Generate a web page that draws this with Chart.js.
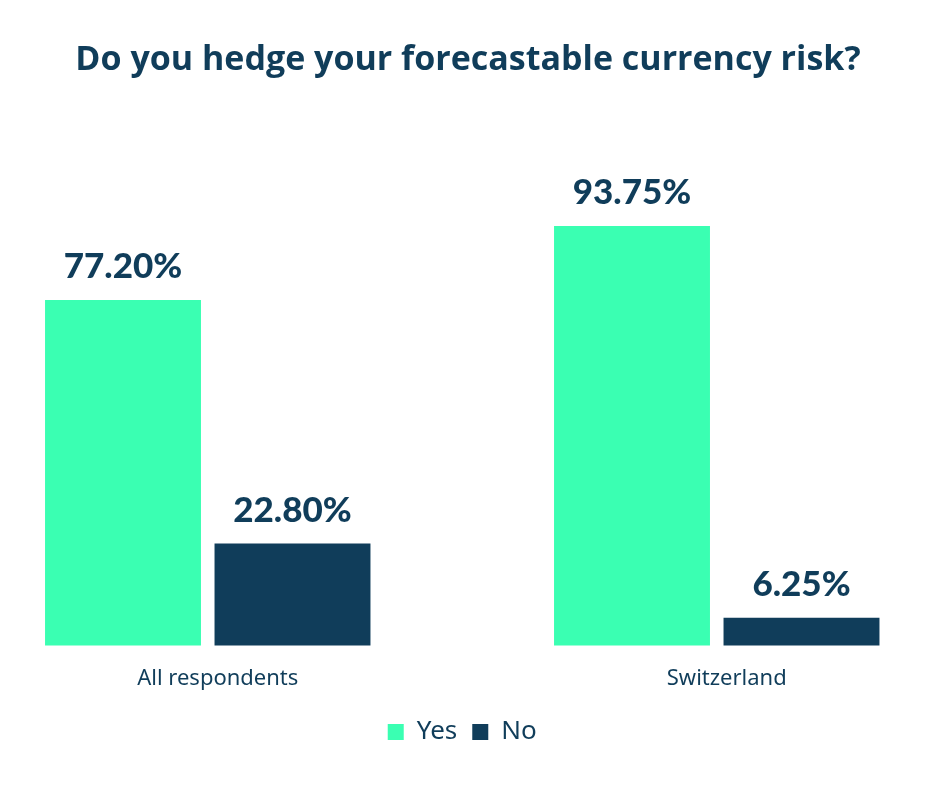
<!DOCTYPE html>
<html>
<head>
<meta charset="utf-8">
<script src="https://cdn.jsdelivr.net/npm/chart.js@4"></script>
<style>
  body { margin: 0; background: #fff; }
  #wrap { width: 936px; height: 796px; }
</style>
</head>
<body>
<div id="wrap"><canvas id="mychart"></canvas></div>
<script>
var labels = ["All respondents", "Switzerland"];
var yesValues = [77.20, 93.75];
var noValues = [22.80, 6.25];
var seriesNames = ["Yes", "No"];
var titleText = "Do you hedge your forecastable currency risk?";

var green = "#3affb2";
var navy = "#103d5a";

// title across the full canvas + value labels on top of each bar
var valueLabels = {
  id: "valueLabels",
  afterDatasetsDraw: function(chart) {
    var ctx = chart.ctx;
    ctx.save();
    ctx.fillStyle = navy;
    ctx.textAlign = "center";
    ctx.textBaseline = "alphabetic";
    ctx.font = "bold 34px 'Open Sans'";
    ctx.fillText(titleText, chart.width / 2, 70);
    ctx.font = "900 35px Lato";
    chart.data.datasets.forEach(function(ds, i) {
      var meta = chart.getDatasetMeta(i);
      meta.data.forEach(function(bar, j) {
        ctx.fillText(ds.data[j].toFixed(2) + "%", bar.x, bar.y - 22);
      });
    });
    ctx.restore();
  }
};

var ctx = document.getElementById("mychart");
var myBarChart = new Chart(ctx, {
  type: "bar",
  data: {
    labels: labels,
    datasets: [
      { label: seriesNames[0], data: yesValues, backgroundColor: green, clip: false },
      { label: seriesNames[1], data: noValues, backgroundColor: navy, clip: false }
    ]
  },
  options: {
    responsive: true,
    maintainAspectRatio: false,
    animation: false,
    categoryPercentage: 0.666,
    barPercentage: 0.92,
    layout: { padding: { left: 207.75, right: 219.25, top: 198, bottom: 41 } },
    scales: {
      x: {
        offset: false,
        grid: { display: false },
        border: { display: false },
        ticks: { color: navy, font: { family: "Noto Sans", size: 22 }, padding: 12, labelOffset: 10 }
      },
      y: { display: false, min: 0, max: 100 }
    },
    plugins: {
      title: { display: false },
      legend: {
        position: "bottom",
        labels: {
          color: navy,
          font: { family: "Noto Sans", size: 26 },
          boxWidth: 16,
          boxHeight: 16,
          padding: 15
        }
      },
      tooltip: { enabled: false }
    }
  },
  plugins: [valueLabels]
});
</script>
</body>
</html>
